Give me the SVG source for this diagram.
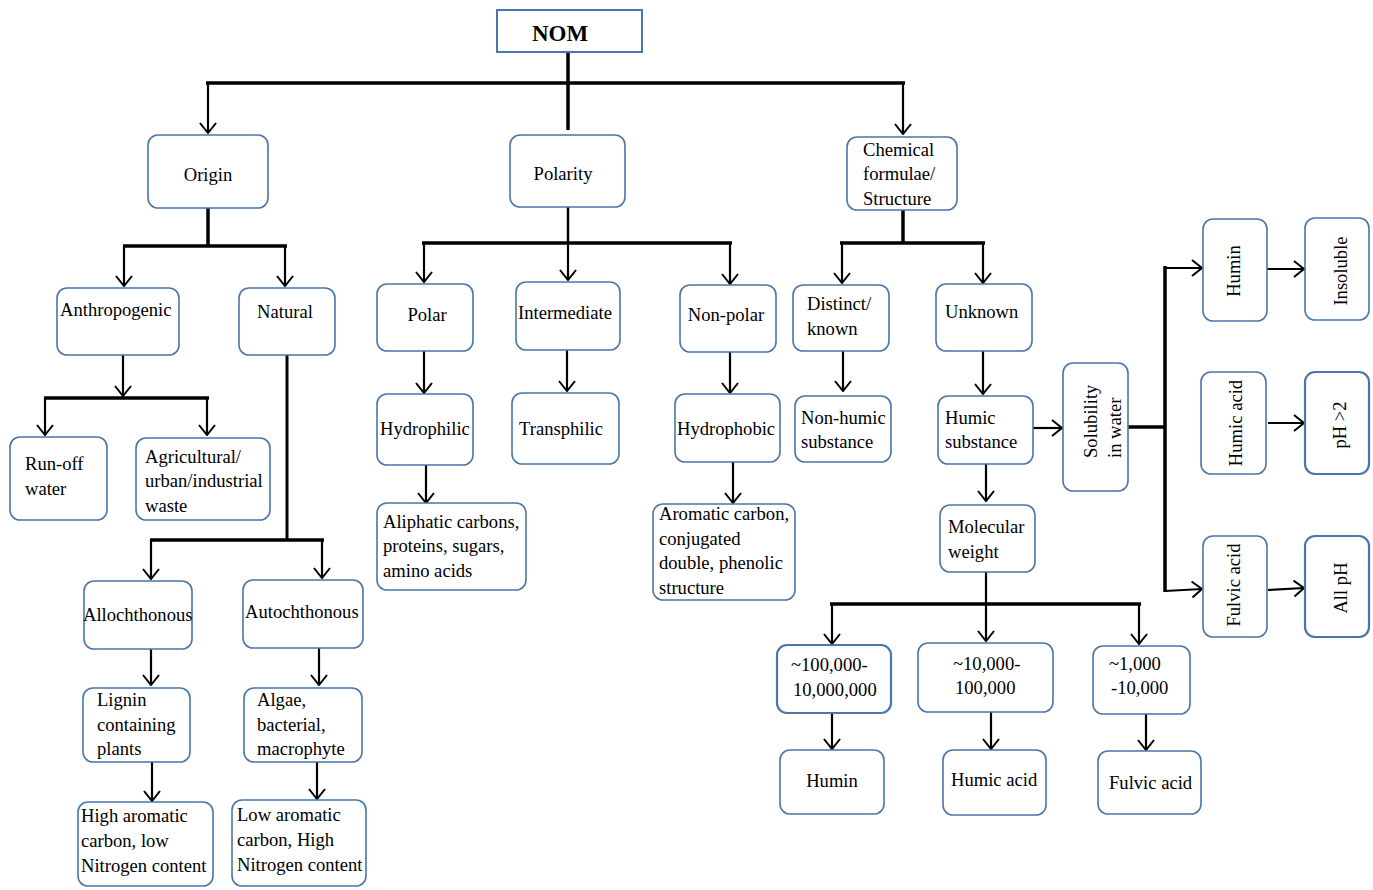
<svg xmlns="http://www.w3.org/2000/svg" width="1373" height="890" viewBox="0 0 1373 890">
<defs>
<marker id="a" viewBox="0 0 12 18" refX="11" refY="9" markerWidth="12" markerHeight="18" orient="auto" markerUnits="userSpaceOnUse"><path d="M1,1 L11,9 L1,17" fill="none" stroke="#000" stroke-width="2"/></marker>
<style>
.b{fill:#fff;stroke:#4a76a8;stroke-width:1.6}
.t{font-family:"Liberation Serif","Times New Roman",serif;font-size:18.6px;fill:#000}
.c{fill:none;stroke:#000;stroke-width:2.2}
.k{fill:none;stroke:#000;stroke-width:3.5}
.m{text-anchor:middle}
</style>
</defs>
<rect width="1373" height="890" fill="#fff"/>
<g id="connectors">
<path class="k" d="M568,52 V130 M206,83 H905 M123,246 H287 M44,398 H209 M150,540 H324 M422,243 H732 M840,243 H985 M830,604 H1141 M1165,266 V592"/>
<path class="c" d="M208,83 V133" marker-end="url(#a)"/>
<path class="c" d="M903,83 V134" marker-end="url(#a)"/>
<path class="k" d="M208,208 V246"/>
<path class="c" d="M124,246 V286" marker-end="url(#a)"/>
<path class="c" d="M285,246 V286" marker-end="url(#a)"/>
<path class="c" d="M123,355 V396" marker-end="url(#a)"/>
<path class="c" d="M45,398 V435" marker-end="url(#a)"/>
<path class="c" d="M207,398 V435" marker-end="url(#a)"/>
<path class="k" d="M287,355 V540" style="stroke-width:3"/>
<path class="c" d="M151,540 V579" marker-end="url(#a)"/>
<path class="c" d="M322,540 V578" marker-end="url(#a)"/>
<path class="c" d="M151,649 V685" marker-end="url(#a)"/>
<path class="c" d="M319,648 V685" marker-end="url(#a)"/>
<path class="c" d="M152,762 V801" marker-end="url(#a)"/>
<path class="c" d="M317,762 V799" marker-end="url(#a)"/>
<path class="c" d="M568,207 V243" style="stroke-width:2.5"/>
<path class="c" d="M424,243 V282" marker-end="url(#a)"/>
<path class="c" d="M568,243 V280" marker-end="url(#a)"/>
<path class="c" d="M730,243 V284" marker-end="url(#a)"/>
<path class="c" d="M424,351 V393" marker-end="url(#a)"/>
<path class="c" d="M567,350 V391" marker-end="url(#a)"/>
<path class="c" d="M730,352 V393" marker-end="url(#a)"/>
<path class="c" d="M426,465 V503" marker-end="url(#a)"/>
<path class="c" d="M733,462 V503" marker-end="url(#a)"/>
<path class="k" d="M903,210 V243"/>
<path class="c" d="M842,243 V283" marker-end="url(#a)"/>
<path class="c" d="M983,243 V283" marker-end="url(#a)"/>
<path class="c" d="M843,351 V391" marker-end="url(#a)"/>
<path class="c" d="M983,351 V394" marker-end="url(#a)"/>
<path class="c" d="M986,464 V501" marker-end="url(#a)"/>
<path class="c" d="M986,572 V641" marker-end="url(#a)"/>
<path class="c" d="M832,604 V644" marker-end="url(#a)"/>
<path class="c" d="M1139,604 V644" marker-end="url(#a)"/>
<path class="c" d="M832,713 V749" marker-end="url(#a)"/>
<path class="c" d="M991,712 V749" marker-end="url(#a)"/>
<path class="c" d="M1146,714 V750" marker-end="url(#a)"/>
<path class="c" d="M1033,428 H1062" marker-end="url(#a)"/>
<path class="k" d="M1128,427 H1165"/>
<path class="c" d="M1165,268 H1202" marker-end="url(#a)"/>
<path class="c" d="M1165,591 L1202,589" marker-end="url(#a)"/>
<path class="c" d="M1267,269 H1304" marker-end="url(#a)"/>
<path class="c" d="M1268,423 H1304" marker-end="url(#a)"/>
<path class="c" d="M1268,590 L1304,588" marker-end="url(#a)"/>
</g>
<g id="nom"><rect x="497" y="10" width="145" height="42" fill="#fff" stroke="#4a76a8" stroke-width="2"/><text class="t m" x="560" y="41" style="font-size:23px;font-weight:bold">NOM</text></g>
<g id="origin"><rect class="b" x="148" y="135" width="120" height="73" rx="10"/><text class="t m" x="208" y="181">Origin</text></g>
<g id="polarity"><rect class="b" x="510" y="135" width="115" height="72" rx="10"/><text class="t m" x="563" y="180">Polarity</text></g>
<g id="chemical"><rect class="b" x="847" y="137" width="110" height="73" rx="10"/><text class="t" x="863" y="156">Chemical</text><text class="t" x="863" y="180">formulae/</text><text class="t" x="863" y="205">Structure</text></g>
<g id="anthropogenic"><rect class="b" x="57" y="288" width="122" height="67" rx="10"/><text class="t" x="60" y="316">Anthropogenic</text></g>
<g id="natural"><rect class="b" x="239" y="288" width="96" height="67" rx="10"/><text class="t m" x="285" y="318">Natural</text></g>
<g id="runoff"><rect class="b" x="10" y="437" width="97" height="83" rx="10"/><text class="t" x="25" y="470">Run-off</text><text class="t" x="25" y="495">water</text></g>
<g id="agri"><rect class="b" x="136" y="438" width="134" height="82" rx="10"/><text class="t" x="145" y="463">Agricultural/</text><text class="t" x="145" y="487">urban/industrial</text><text class="t" x="145" y="512">waste</text></g>
<g id="allo"><rect class="b" x="84" y="581" width="108" height="68" rx="10"/><text class="t" x="83" y="621">Allochthonous</text></g>
<g id="auto"><rect class="b" x="243" y="580" width="120" height="68" rx="10"/><text class="t" x="245" y="618">Autochthonous</text></g>
<g id="lignin"><rect class="b" x="83" y="688" width="107" height="74" rx="10"/><text class="t" x="97" y="706">Lignin</text><text class="t" x="97" y="731">containing</text><text class="t" x="97" y="755">plants</text></g>
<g id="algae"><rect class="b" x="244" y="688" width="118" height="74" rx="10"/><text class="t" x="257" y="706">Algae,</text><text class="t" x="257" y="731">bacterial,</text><text class="t" x="257" y="755">macrophyte</text></g>
<g id="higharom"><rect class="b" x="78" y="802" width="135" height="84" rx="10"/><text class="t" x="81" y="822">High aromatic</text><text class="t" x="81" y="847">carbon, low</text><text class="t" x="81" y="872">Nitrogen content</text></g>
<g id="lowarom"><rect class="b" x="232" y="800" width="134" height="86" rx="10"/><text class="t" x="237" y="821">Low aromatic</text><text class="t" x="237" y="846">carbon, High</text><text class="t" x="237" y="871">Nitrogen content</text></g>
<g id="polar"><rect class="b" x="377" y="284" width="96" height="67" rx="10"/><text class="t m" x="427" y="321">Polar</text></g>
<g id="intermediate"><rect class="b" x="516" y="282" width="104" height="68" rx="10"/><text class="t" x="518" y="319">Intermediate</text></g>
<g id="nonpolar"><rect class="b" x="680" y="285" width="96" height="67" rx="10"/><text class="t m" x="726" y="321">Non-polar</text></g>
<g id="hydrophilic"><rect class="b" x="377" y="394" width="96" height="71" rx="10"/><text class="t" x="380" y="435">Hydrophilic</text></g>
<g id="transphilic"><rect class="b" x="512" y="393" width="107" height="71" rx="10"/><text class="t" x="519" y="435">Transphilic</text></g>
<g id="hydrophobic"><rect class="b" x="675" y="394" width="105" height="68" rx="10"/><text class="t" x="677" y="435">Hydrophobic</text></g>
<g id="aliphatic"><rect class="b" x="377" y="503" width="149" height="87" rx="10"/><text class="t" x="383" y="528">Aliphatic carbons,</text><text class="t" x="383" y="552">proteins, sugars,</text><text class="t" x="383" y="577">amino acids</text></g>
<g id="aromatic"><rect class="b" x="653" y="504" width="142" height="96" rx="10"/><text class="t" x="659" y="520">Aromatic carbon,</text><text class="t" x="659" y="545">conjugated</text><text class="t" x="659" y="569">double, phenolic</text><text class="t" x="659" y="594">structure</text></g>
<g id="distinct"><rect class="b" x="793" y="285" width="96" height="66" rx="10"/><text class="t" x="807" y="310">Distinct/</text><text class="t" x="807" y="335">known</text></g>
<g id="unknown"><rect class="b" x="936" y="284" width="96" height="67" rx="10"/><text class="t" x="945" y="318">Unknown</text></g>
<g id="nonhumic"><rect class="b" x="795" y="396" width="96" height="66" rx="10"/><text class="t" x="801" y="424">Non-humic</text><text class="t" x="801" y="448">substance</text></g>
<g id="humicsub"><rect class="b" x="938" y="396" width="95" height="68" rx="10"/><text class="t" x="945" y="424">Humic</text><text class="t" x="945" y="448">substance</text></g>
<g id="molweight"><rect class="b" x="940" y="505" width="95" height="67" rx="10"/><text class="t" x="948" y="533">Molecular</text><text class="t" x="948" y="558">weight</text></g>
<g id="mw1"><rect class="b" x="777" y="645" width="114" height="68" rx="10" style="stroke-width:2.2"/><text class="t" x="791" y="671">~100,000-</text><text class="t" x="793" y="696">10,000,000</text></g>
<g id="mw2"><rect class="b" x="918" y="643" width="135" height="69" rx="10"/><text class="t" x="953" y="670">~10,000-</text><text class="t" x="955" y="694">100,000</text></g>
<g id="mw3"><rect class="b" x="1093" y="646" width="97" height="68" rx="10"/><text class="t" x="1109" y="670">~1,000</text><text class="t" x="1111" y="694">-10,000</text></g>
<g id="humin1"><rect class="b" x="780" y="750" width="104" height="64" rx="10"/><text class="t m" x="832" y="787">Humin</text></g>
<g id="humicacid1"><rect class="b" x="943" y="750" width="103" height="65" rx="10"/><text class="t" x="951" y="786">Humic acid</text></g>
<g id="fulvic1"><rect class="b" x="1098" y="751" width="103" height="63" rx="10"/><text class="t" x="1109" y="789">Fulvic acid</text></g>
<g id="solubility"><rect class="b" x="1063" y="363" width="65" height="128" rx="10"/><text class="t" transform="rotate(-90 1097 458)" x="1097" y="458">Solubility</text><text class="t" transform="rotate(-90 1121 458)" x="1121" y="458">in water</text></g>
<g id="humin2"><rect class="b" x="1203" y="219" width="64" height="102" rx="10"/><text class="t m" transform="rotate(-90 1240 271)" x="1240" y="271">Humin</text></g>
<g id="insoluble"><rect class="b" x="1305" y="218" width="64" height="102" rx="10"/><text class="t m" transform="rotate(-90 1347 271)" x="1347" y="271">Insoluble</text></g>
<g id="humicacid2"><rect class="b" x="1201" y="372" width="65" height="102" rx="10"/><text class="t m" transform="rotate(-90 1242 423)" x="1242" y="423">Humic acid</text></g>
<g id="ph2"><rect class="b" x="1305" y="372" width="64" height="102" rx="10" style="stroke-width:2.2"/><text class="t m" transform="rotate(-90 1346 425)" x="1346" y="425">pH &gt;2</text></g>
<g id="fulvic2"><rect class="b" x="1203" y="536" width="64" height="101" rx="10"/><text class="t m" transform="rotate(-90 1240 585)" x="1240" y="585">Fulvic acid</text></g>
<g id="allph"><rect class="b" x="1305" y="536" width="64" height="101" rx="10" style="stroke-width:2.2"/><text class="t m" transform="rotate(-90 1347 588)" x="1347" y="588">All pH</text></g>
</svg>
